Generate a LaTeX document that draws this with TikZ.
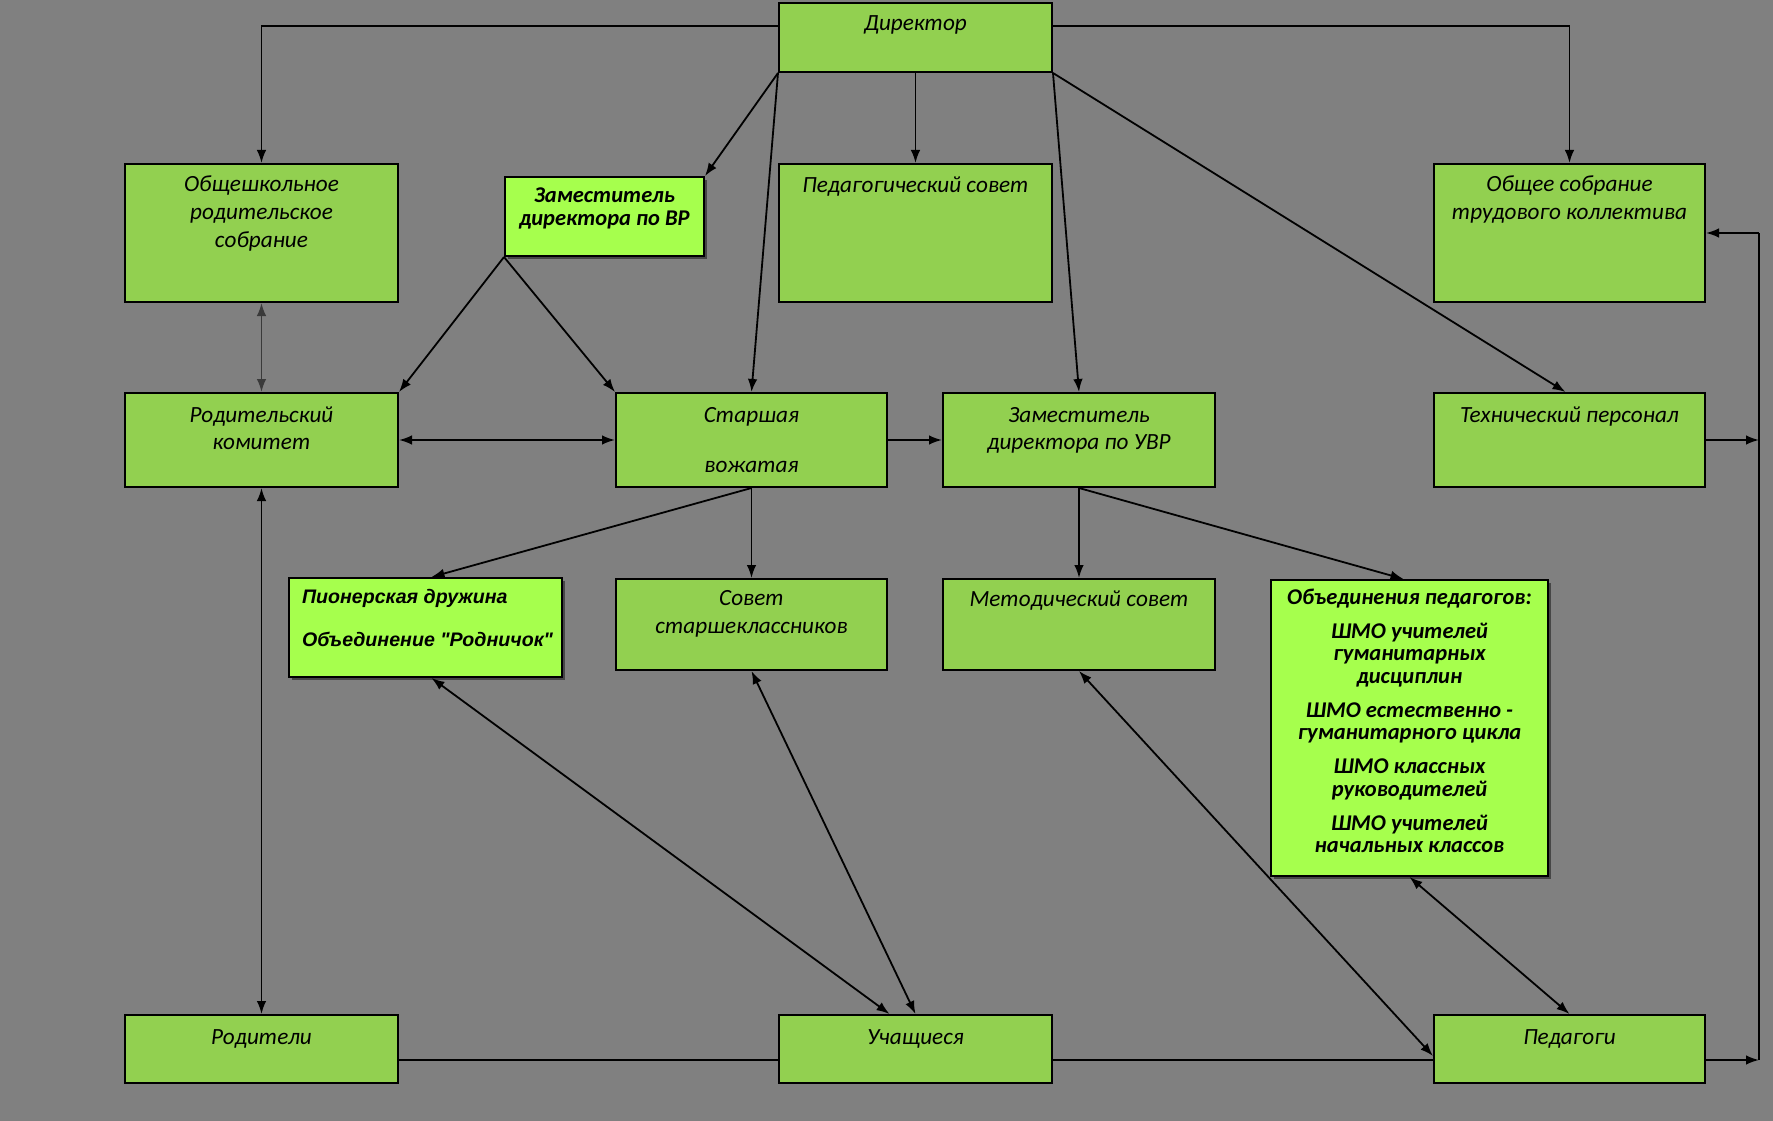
\documentclass[tikz,border=0pt]{standalone}
\usepackage{fontspec}
\setmainfont{Carlito}
\newfontfamily\arialf{Liberation Sans}
\usetikzlibrary{arrows.meta,shadows}
\definecolor{bg}{HTML}{808080}
\definecolor{boxgreen}{HTML}{92D050}
\definecolor{lightgreen}{HTML}{A6FF4D}
\definecolor{darkline}{HTML}{3A3A3A}
% #1 font size, #2 width, #3 height, #4 first baseline, #5 baselineskip, #6 text
\newcommand\bxt[6][23.2]{\parbox[c][#3pt][t]{#2pt}{\centering\fontsize{#1pt}{#5pt}\selectfont\rule{0pt}{#4pt}#6}}
\begin{document}
\begin{tikzpicture}[x=1pt,y=-1pt,
  box/.style={draw=black, line width=2pt, fill=boxgreen, inner sep=0pt, anchor=north west, font=\itshape},
  lbox/.style={box, fill=lightgreen, general shadow={fill=black, opacity=0.45, shadow xshift=3pt, shadow yshift=-3pt}},
  arr/.style={-{Latex[length=13pt,width=9.5pt]}, line width=1.8pt},
  darr/.style={{Latex[length=13pt,width=9.5pt]}-{Latex[length=13pt,width=9.5pt]}, line width=1.8pt},
  plain/.style={line width=1.8pt}]
\fill[bg] (0,0) rectangle (1773,1121);
\useasboundingbox (0,0) rectangle (1773,1121);

% boxes
\node[box] (dir) at (778,2) {\bxt{273}{69}{28}{28}{Директор}};
\node[box] (osr) at (124,163) {\bxt{273}{138}{27}{28}{Общешкольное\\ родительское\\ собрание}};
\node[lbox,font=\bfseries\itshape] (zvr) at (504,176) {\bxt[22.5]{199}{79}{25}{23}{Заместитель\\ директора по ВР}};
\node[box] (ped) at (778,163) {\bxt{273}{138}{28}{28}{Педагогический совет}};
\node[box] (oso) at (1433,163) {\bxt{271}{138}{27}{28}{Общее собрание\\ трудового коллектива}};
\node[box] (rk) at (124,392) {\bxt{273}{94}{29}{27}{Родительский\\ комитет}};
\node[box] (sv) at (615,392) {\bxt{271}{94}{29}{50}{Старшая\\ вожатая}};
\node[box] (zuvr) at (942,392) {\bxt{272}{94}{29}{27}{Заместитель\\ директора по УВР}};
\node[box] (tp) at (1433,392) {\bxt{271}{94}{29}{27}{Технический персонал}};
\node[lbox] (pio) at (288,577) {\parbox[c][99pt][t]{273pt}{\raggedright\leftskip=13pt\arialf\bfseries\itshape\fontsize{19.6pt}{43pt}\selectfont\rule{0pt}{25pt}Пионерская дружина\\ Объединение "Родничок"}};
\node[box] (sov) at (615,578) {\bxt{271}{91}{26}{28}{Совет\\ старшеклассников}};
\node[box] (met) at (942,578) {\bxt{272}{91}{27}{28}{Методический совет}};
\node[lbox,font=\bfseries\itshape] (ob) at (1270,579) {\bxt[22.5]{277}{296}{24}{22.5}{Объединения педагогов:\\[11.5pt]
  ШМО учителей\\ гуманитарных\\ дисциплин\\[11.5pt]
  ШМО естественно -\\ гуманитарного цикла\\[11.5pt]
  ШМО классных\\ руководителей\\[11.5pt]
  ШМО учителей\\ начальных классов}};
\node[box] (rod) at (124,1014) {\bxt{273}{68}{29}{28}{Родители}};
\node[box] (uch) at (778,1014) {\bxt{273}{68}{29}{28}{Учащиеся}};
\node[box] (pdg) at (1433,1014) {\bxt{271}{68}{29}{28}{Педагоги}};

\coordinate (r3) at (1759,1060);

% connectors
\draw[arr] ([yshift=11.5pt]dir.west) -| (osr.north);
\draw[arr] ([yshift=11.5pt]dir.east) -| (oso.north);
\draw[arr] (dir.south) -- (ped.north);
\draw[arr] (dir.south west) -- (zvr.north east);
\draw[arr] (dir.south west) -- (sv.north);
\draw[arr] (dir.south east) -- (zuvr.north);
\draw[arr] (dir.south east) -- ([xshift=-4pt]tp.north);
\draw[arr] (zvr.south west) -- (rk.north east);
\draw[arr] (zvr.south west) -- (sv.north west);
\draw[darr, darkline] (osr.south) -- (rk.north);
\draw[darr] (rk.east) -- (sv.west);
\draw[arr] (sv.east) -- (zuvr.west);
\draw[arr] (sv.south) -- ([xshift=6pt]pio.north);
\draw[arr] (sv.south) -- (sov.north);
\draw[arr] (zuvr.south) -- (met.north);
\draw[arr] (zuvr.south) -- ([xshift=-6pt]ob.north);
\draw[darr] (rk.south) -- (rod.north);
\draw[darr] ([xshift=6pt]pio.south) -- ([xshift=-26pt]uch.north);
\draw[darr] (sov.south) -- (uch.north);
\draw[darr] (met.south) -- ([yshift=-7pt]pdg.west);
\draw[darr] (ob.south) -- (pdg.north);
\draw[plain] (rod.east |- r3) -- (uch.west |- r3);
\draw[plain] (uch.east |- r3) -- (pdg.west |- r3);
\draw[arr] (pdg.east |- r3) -- (r3);
\draw[arr] (tp.east) -- (tp.east -| r3);
\draw[plain] (r3) -- (r3 |- oso.east);
\draw[arr] (r3 |- oso.east) -- (oso.east);
\end{tikzpicture}
\end{document}
